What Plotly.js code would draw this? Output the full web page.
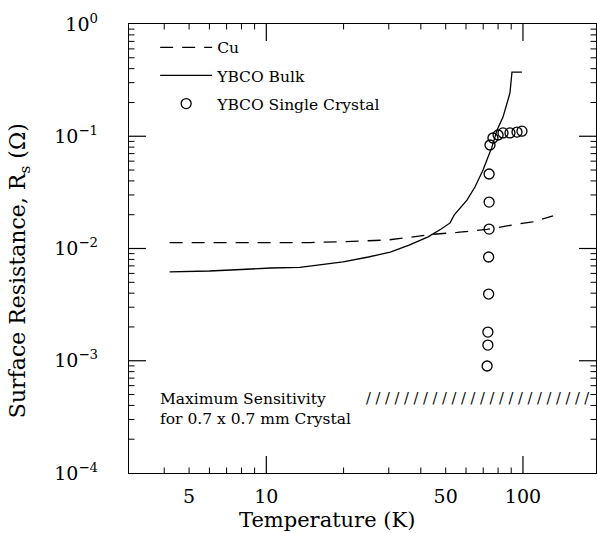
<!DOCTYPE html>
<html><head><meta charset="utf-8">
<script src="https://cdn.plot.ly/plotly-3.0.1.min.js"></script>
<style>html,body{margin:0;padding:0;background:#fff}</style>
</head><body><div id="chart" style="width:597px;height:533px"></div>
<script>
// Data (T in K, Rs in Ohm)
const cuT = [4.2, 10, 14.8, 20, 29.6, 36.3, 44.7, 55.4, 72.4, 86.7, 109, 131];
const cuR = [0.0113, 0.0113, 0.0113, 0.0115, 0.0119, 0.0126, 0.0134, 0.0139, 0.0148, 0.0159, 0.0173, 0.0195];

const bulkT = [4.2, 6, 8, 10.4, 13.5, 19.9, 25, 30.4, 36, 42.7, 48, 52, 54, 60.5, 65, 69.9, 73.1, 75.7, 79.3, 83.6, 89, 90.6, 99.1];
const bulkR = [0.0062, 0.0063, 0.0065, 0.0067, 0.0068, 0.0076, 0.0084, 0.0093, 0.0107, 0.0127, 0.0149, 0.0169, 0.0199, 0.0270, 0.0353, 0.050, 0.0653, 0.080, 0.114, 0.148, 0.243, 0.373, 0.373];

const crystalT = [72.5, 73, 73, 73.5, 73.5, 73.8, 73.8, 73.8, 74.4, 76.4, 80, 83.6, 89, 94.8, 99.1];
const crystalR = [0.000898, 0.00138, 0.0018, 0.00393, 0.0084, 0.0149, 0.0259, 0.0461, 0.0836, 0.0965, 0.1026, 0.107, 0.107, 0.109, 0.111];

const sensitivityT = [24, 192];
const sensitivityR = 4.7e-4;

// Tick positions and labels
const xLabelVals = [5, 10, 50, 100];
const xLabelText = ['5', '10', '50', '100'];
const xShortTicks = [4, 5, 6, 7, 8, 9, 20, 30, 40, 50, 60, 70, 80, 90];
const xLongTicks = [10, 100];
const yDecades = [1e-4, 1e-3, 1e-2, 1e-1, 1];
const yDecadeLabels = ['10<sup>\u22124</sup>', '10<sup>\u22123</sup>', '10<sup>\u22122</sup>', '10<sup>\u22121</sup>', '10<sup>0</sup>'];
const yLongTicks = [1e-3, 1e-2, 1e-1];
const yShortTicks = [];
[1e-4, 1e-3, 1e-2, 1e-1].forEach(d => { for (let k = 2; k <= 9; k++) yShortTicks.push(k * d); });

const FONT = 'DejaVu Serif';
const W = 597, H = 533;
const M = {l: 129, r: 1, t: 24, b: 60, autoexpand: false};
const plotW = W - M.l - M.r, plotH = H - M.t - M.b;
const xRange = [Math.log10(2.916), Math.log10(192.6)];
const yRange = [-4, 0];
const tickFont = {family: FONT, size: 19, color: 'black'};

// Inside tick marks on all four sides, built from the tick arrays in axis (data) units
const xSpan = xRange[1] - xRange[0], ySpan = yRange[1] - yRange[0];
function tickPaths(xTicks, yTicks, len) {
  const xs = [], ys = [];
  const dy = len / plotH * ySpan, dx = len / plotW * xSpan;
  xTicks.forEach(v => {
    xs.push(v, v, null, v, v, null);
    ys.push(Math.pow(10, yRange[0]), Math.pow(10, yRange[0] + dy), null,
            Math.pow(10, yRange[1]), Math.pow(10, yRange[1] - dy), null);
  });
  yTicks.forEach(v => {
    xs.push(Math.pow(10, xRange[0]), Math.pow(10, xRange[0] + dx), null,
            Math.pow(10, xRange[1]), Math.pow(10, xRange[1] - dx), null);
    ys.push(v, v, null, v, v, null);
  });
  return {xs, ys};
}
const shortT = tickPaths(xShortTicks, yShortTicks, 5.5);
const longT = tickPaths(xLongTicks, yLongTicks, 17);

const traces = [
  {x: cuT, y: cuR, mode: 'lines', name: 'Cu', legendgroup: 'a',
   line: {color: 'black', width: 1.3, dash: '13px,9px'}},
  {x: bulkT, y: bulkR, mode: 'lines', name: 'YBCO Bulk', legendgroup: 'b',
   line: {color: 'black', width: 1.3}},
  {x: crystalT, y: crystalR, mode: 'markers', name: 'YBCO Single Crystal', legendgroup: 'c',
   marker: {symbol: 'circle-open', size: 10, color: 'black', line: {width: 1.3, color: 'black'}}},
  {x: shortT.xs, y: shortT.ys, mode: 'lines', showlegend: false, hoverinfo: 'skip', legendgroup: 'z',
   connectgaps: false, line: {color: 'black', width: 1}},
  {x: longT.xs, y: longT.ys, mode: 'lines', showlegend: false, hoverinfo: 'skip', legendgroup: 'z',
   connectgaps: false, line: {color: 'black', width: 1.2}}
];

const nSlash = 24;
const slashText = Array(nSlash).fill('/').join(' ');

const layout = {
  width: W, height: H,
  margin: M,
  paper_bgcolor: 'white', plot_bgcolor: 'white',
  font: {family: FONT, color: 'black'},
  showlegend: true,
  legend: {x: 0.056, y: 0.985, xanchor: 'left', yanchor: 'top', bgcolor: 'rgba(0,0,0,0)',
           font: {family: FONT, size: 15.5, color: 'black'}, itemwidth: 52,
           traceorder: 'grouped', tracegroupgap: 5},
  xaxis: {type: 'log', range: xRange, showgrid: false, zeroline: false,
          showline: true, linecolor: 'black', linewidth: 1.2, mirror: true, ticks: '',
          tickmode: 'array', tickvals: xLabelVals, ticktext: xLabelText,
          tickfont: tickFont, ticklabelstandoff: 6},
  yaxis: {type: 'log', range: yRange, showgrid: false, zeroline: false,
          showline: true, linecolor: 'black', linewidth: 1.2, mirror: true, ticks: '',
          tickmode: 'array', tickvals: yDecades, ticktext: yDecadeLabels,
          tickfont: tickFont, ticklabelstandoff: 26},
  annotations: [
    {text: 'Temperature (K)', xref: 'paper', yref: 'paper', x: 0.425, y: -0.105,
     xanchor: 'center', yanchor: 'middle', showarrow: false,
     font: {family: FONT, size: 21, color: 'black'}},
    {text: 'Surface Resistance, R<sub>s</sub> (\u03A9)', xref: 'paper', yref: 'paper',
     x: -0.233, y: 0.45, xanchor: 'center', yanchor: 'middle', textangle: -90, showarrow: false,
     font: {family: FONT, size: 22, color: 'black'}},
    {text: 'Maximum Sensitivity<br>for 0.7 x 0.7 mm Crystal', xref: 'paper', yref: 'paper',
     x: 0.062, y: 0.1425, xanchor: 'left', yanchor: 'middle', align: 'left', showarrow: false,
     font: {family: FONT, size: 15.5, color: 'black'}},
    {text: slashText, xref: 'x', yref: 'y', x: Math.log10(sensitivityT[0]), y: Math.log10(sensitivityR),
     xanchor: 'left', yanchor: 'middle', showarrow: false,
     font: {family: FONT, size: 14.5, color: 'black'}}
  ]
};

Plotly.newPlot('chart', traces, layout, {displayModeBar: false, staticPlot: true});
</script>
</body></html>
